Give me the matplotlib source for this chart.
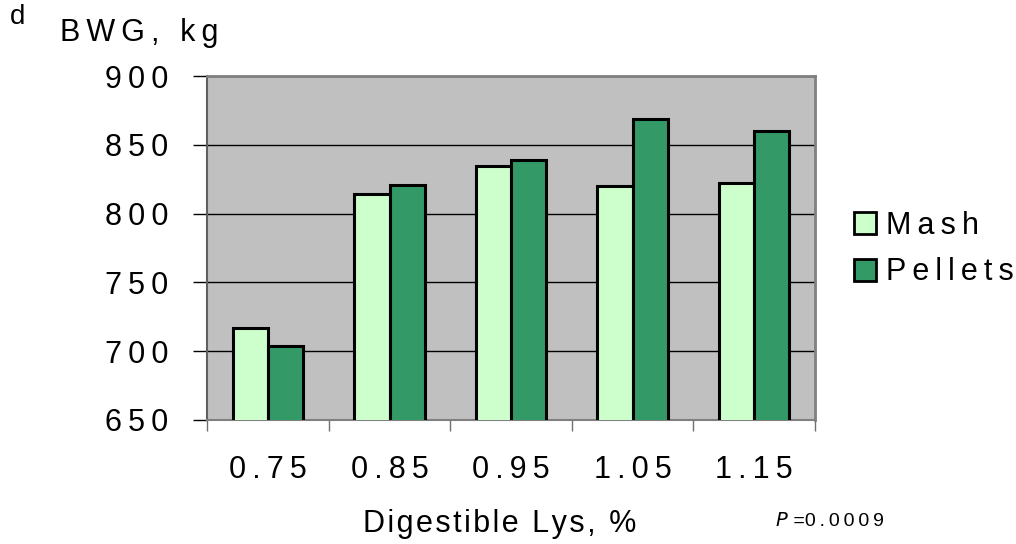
import numpy as np
import matplotlib; matplotlib.use('Agg')
import matplotlib.pyplot as plt
from matplotlib.patches import Patch
from matplotlib.ticker import FixedLocator

plt.rcParams['font.family'] = ['Liberation Sans', 'DejaVu Sans']

lys = ['0.75', '0.85', '0.95', '1.05', '1.15']
mash = [717, 814, 835, 820, 822]
pellets = [704, 821, 839, 869, 860]
yticks = [650, 700, 750, 800, 850, 900]

def spaced(s, sp='\u2009'): return sp.join(s)

fig = plt.figure(figsize=(10.16, 5.44), dpi=100)
ax = fig.add_axes([0.204, 0.228, 0.598, 0.632])
x = np.arange(len(lys)); w = 0.29
ax.bar(x - w/2, mash, w, color='#CCFFCC', edgecolor='black', lw=2.2, zorder=3)
ax.bar(x + w/2, pellets, w, color='#339966', edgecolor='black', lw=2.2, zorder=3)
ax.set_facecolor('#C0C0C0')
ax.set_xlim(-0.5, 4.5); ax.set_ylim(650, 900)
ax.set_yticks(yticks); ax.set_yticklabels([spaced(str(v)) for v in yticks], fontsize=22)
ax.tick_params(axis='y', length=10, width=1, pad=18, color='black')
ax.set_xticks(x); ax.set_xticklabels([spaced(s) for s in lys], fontsize=22)
ax.tick_params(axis='x', which='major', length=0, pad=25)
ax.xaxis.set_minor_locator(FixedLocator(np.arange(-0.5, 5, 1)))
ax.tick_params(axis='x', which='minor', length=8, width=1, color='#707070')
ax.grid(True, axis='y', color='black', lw=1, zorder=1)
for s in ['top', 'right']: ax.spines[s].set_color('#808080'); ax.spines[s].set_linewidth(2)
ax.spines['left'].set_color('#606060'); ax.spines['bottom'].set_color('#808080')
ax.spines['left'].set_linewidth(1.5); ax.spines['bottom'].set_linewidth(1.5)

fig.text(500/1016, 1 - 524/544, spaced('Digestible Lys, %', '\u200a'), fontsize=22, ha='center', va='center')
fig.text(60/1016, 1 - 33/544, spaced('BWG, kg'), fontsize=22, ha='left', va='center')
fig.text(10/1016, 1 - 17/544, 'd', fontsize=20, ha='left', va='center')
fig.text(775/1016, 1 - 521/544, '$P$', fontsize=14, ha='left', va='center')
fig.text(788/1016, 1 - 521/544, ' =' + spaced('0.0009'), fontsize=14, ha='left', va='center')

handles = [Patch(facecolor='#CCFFCC', edgecolor='black', lw=2, label=spaced('Mash')),
           Patch(facecolor='#339966', edgecolor='black', lw=2, label=spaced('Pellets'))]
fig.legend(handles=handles, loc='center left', bbox_to_anchor=(826/1016, 1 - 249/544), frameon=False,
           fontsize=22, handlelength=0.75, handleheight=0.75, handletextpad=0.3, labelspacing=0.55)

fig.savefig('out.png', dpi=100)
